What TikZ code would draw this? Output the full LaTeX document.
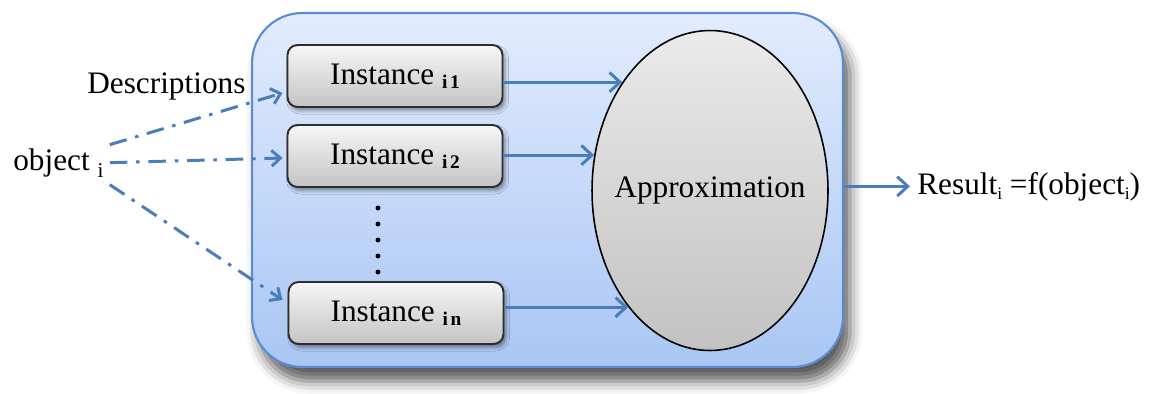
\documentclass[tikz,border=0pt]{standalone}
\usepackage{fontspec}
\setmainfont{Liberation Serif}
\newfontfamily\diagfont{Liberation Serif}
\usetikzlibrary{arrows.meta,shapes.geometric,shadows.blur,calc}
\definecolor{linkblue}{HTML}{4A7EBB}
\definecolor{frameblue}{HTML}{5B8CD2}
\definecolor{panetop}{HTML}{E2ECFD}
\definecolor{panebot}{HTML}{A9C6F4}
\definecolor{boxtop}{HTML}{F6F6F6}
\definecolor{boxbot}{HTML}{C4C4C4}
\definecolor{boxline}{HTML}{2E2E2E}
\definecolor{elltop}{HTML}{EAEAEA}
\definecolor{ellbot}{HTML}{C2C2C2}
\newcommand{\instsub}[1]{\raisebox{-2.5pt}{\diagfont\fontsize{11}{11}\selectfont\bfseries #1}}
\newcommand{\lowi}[2]{\raisebox{-#2}{\diagfont\fontsize{#1}{#1}\selectfont i}}
\begin{document}
\begin{tikzpicture}[x=0.02cm,y=-0.02cm,
  font=\diagfont\fontsize{17.8}{21}\selectfont,
  pane/.style={draw=frameblue,line width=1.2pt,rounded corners=1cm,
    top color=panetop,bottom color=panebot,
    minimum width=11.82cm,minimum height=7.08cm,inner sep=0pt,
    blur shadow={shadow xshift=4pt,shadow yshift=-8pt,shadow blur radius=7pt,shadow opacity=65}},
  inst/.style={draw=boxline,line width=1.1pt,rounded corners=0.2cm,
    top color=boxtop,bottom color=boxbot,
    minimum width=4.3cm,minimum height=1.24cm,inner sep=0pt,
    blur shadow={shadow xshift=1.5pt,shadow yshift=-2pt,shadow blur radius=2pt,shadow opacity=40}},
  approx/.style={ellipse,draw=black,line width=0.9pt,
    top color=elltop,bottom color=ellbot,
    minimum width=4.72cm,minimum height=6.4cm,inner sep=0pt},
  txt/.style={anchor=base west,inner sep=0pt},
  link/.style={draw=linkblue,line width=1.7pt,-{Straight Barb[length=6pt,width=11pt]}},
  desc/.style={draw=linkblue,line width=1.7pt,dash pattern=on 10pt off 5pt on 2pt off 5pt,
    -{Straight Barb[length=5pt,width=9pt]}}
]
\useasboundingbox (0,0) rectangle (1149,393);
\node[pane] (pane) at (547.5,190) {};
\node[inst] (i1) at (395,76) {Instance \instsub{i\kern1.5pt 1}};
\node[inst] (i2) at (395,156) {Instance \instsub{i\kern1.5pt 2}};
\node[inst] (in) at (396,313) {Instance \instsub{i\kern1.5pt n}};
\node[approx] (ap) at (710,190.5) {\makebox[0pt]{Approximation}};
\node[txt] (desc) at (87,93) {Descriptions};
\node[txt] (obj) at (13,170) {object \lowi{12}{4pt}};
\node[txt] (res) at (917,194) {Result\lowi{10}{3pt} =f(object\lowi{10}{3pt})};
\foreach \yy in {208,224,240,256,272} \fill (378,\yy) circle (1.4pt);
\draw[link] (ap.129.1 -| i1.east) -- (ap.129.1);
\draw[link] (ap.163.8 -| i2.east) -- (ap.163.8);
\draw[link] (ap.235.2 -| in.east) -- (ap.235.2);
\draw[link] (pane.east |- res.west) -- ([xshift=-4pt]res.west);
\draw[desc] ($(obj.east)+(6,-18)$) -- ($(i1.west)+(-4,17)$);
\draw[desc] ($(obj.east)+(6,0)$) -- ($(i2.west)+(-4,2)$);
\draw[desc] ($(obj.east)+(6,22)$) -- ($(in.west)+(-5,-13)$);
\end{tikzpicture}
\end{document}
